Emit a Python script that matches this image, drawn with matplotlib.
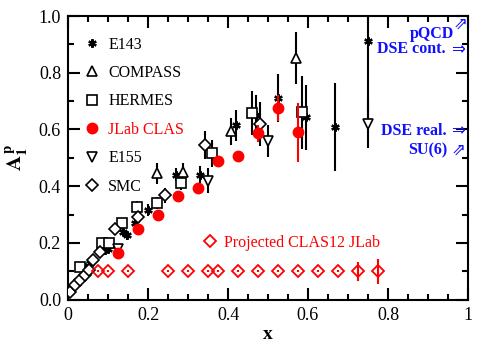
import matplotlib

matplotlib.use("Agg")
import matplotlib.pyplot as plt
from matplotlib.lines import Line2D

plt.rcParams["font.family"] = ["Liberation Serif", "DejaVu Sans"]
plt.rcParams["mathtext.fontset"] = "stix"

# E143
e143_x = [0.0425, 0.055, 0.0925, 0.1, 0.1375, 0.147, 0.1675, 0.2, 0.27, 0.33,
          0.42, 0.47, 0.525, 0.595, 0.6675, 0.75]
e143_y = [0.115, 0.128, 0.175, 0.18, 0.238, 0.227, 0.27, 0.316, 0.44, 0.44,
          0.615, 0.65, 0.71, 0.643, 0.61, 0.912]
e143_err = [0.012, 0.012, 0.012, 0.012, 0.015, 0.015, 0.018, 0.02, 0.023, 0.03,
            0.055, 0.07, 0.085, 0.115, 0.155, 0.3]

# COMPASS
compass_x = [0.2225, 0.2875, 0.4075, 0.57]
compass_y = [0.446, 0.45, 0.594, 0.852]
compass_err = [0.037, 0.03, 0.048, 0.09]

# HERMES
hermes_x = [0.03, 0.085, 0.1025, 0.135, 0.1725, 0.2225, 0.2825, 0.36, 0.46, 0.585]
hermes_y = [0.115, 0.20, 0.20, 0.27, 0.325, 0.34, 0.41, 0.516, 0.658, 0.66]
hermes_err = [0.015, 0.012, 0.012, 0.015, 0.023, 0.022, 0.025, 0.048, 0.078, 0.13]

# JLab CLAS
clas_x = [0.125, 0.175, 0.225, 0.275, 0.325, 0.375, 0.425, 0.475, 0.525, 0.575]
clas_y = [0.165, 0.25, 0.30, 0.365, 0.395, 0.488, 0.506, 0.587, 0.675, 0.59]
clas_err = [0.008, 0.008, 0.008, 0.01, 0.01, 0.015, 0.015, 0.03, 0.045, 0.105]

# E155
e155_x = [0.125, 0.35, 0.50, 0.75]
e155_y = [0.18, 0.42, 0.559, 0.62]
e155_err = [0.015, 0.045, 0.057, 0.086]

# SMC
smc_x = [0.005, 0.0175, 0.03, 0.0425, 0.0525, 0.0625, 0.08, 0.1175, 0.175,
         0.2425, 0.3425, 0.48]
smc_y = [0.026, 0.051, 0.069, 0.086, 0.104, 0.14, 0.168, 0.25, 0.29, 0.368,
         0.545, 0.62]
smc_err = [0.01, 0.01, 0.01, 0.01, 0.01, 0.012, 0.012, 0.015, 0.02, 0.026,
           0.05, 0.078]

# Projected CLAS12
proj_x = [0.075, 0.10, 0.15, 0.25, 0.30, 0.35, 0.375, 0.425, 0.475, 0.525,
          0.575, 0.625, 0.675, 0.725, 0.775]
proj_y = [0.1] * 15
proj_err = [0.003] * 13 + [0.033, 0.045]

BLUE = "#1010ff"
RED = "#ff0000"

fig = plt.figure(figsize=(4.79, 3.48), dpi=100)
ax = fig.add_axes([0.142, 0.139, 0.835, 0.815])

ebkw = dict(ls="none", ecolor="black", elinewidth=1.5, capsize=0, zorder=3)
ax.errorbar(e143_x, e143_y, yerr=e143_err, marker=(6, 2, 0), ms=6, mew=1.6,
            color="black", **ebkw)
ax.errorbar(compass_x, compass_y, yerr=compass_err, marker="^", ms=6.5,
            mfc="white", mec="black", mew=1.2, **ebkw)
ax.errorbar(hermes_x, hermes_y, yerr=hermes_err, marker="s", ms=6.5,
            mfc="white", mec="black", mew=1.2, **ebkw)
ax.errorbar(e155_x, e155_y, yerr=e155_err, marker="v", ms=6.5,
            mfc="white", mec="black", mew=1.2, **ebkw)
ax.errorbar(smc_x, smc_y, yerr=smc_err, marker="D", ms=6.5,
            mfc="white", mec="black", mew=1.2, **ebkw)
ax.errorbar(clas_x, clas_y, yerr=clas_err, marker="o", ms=7.5, color=RED,
            ls="none", ecolor=RED, elinewidth=1.5, capsize=0, zorder=4)
ax.errorbar(proj_x, proj_y, yerr=proj_err, marker="D", ms=6.5, mfc="none",
            mec=RED, mew=1.3, ls="none", ecolor=RED, elinewidth=1.5,
            capsize=0, zorder=4)

ax.set_xlim(0, 1)
ax.set_ylim(0, 1)
ax.set_xticks([0, 0.2, 0.4, 0.6, 0.8, 1])
ax.set_xticklabels(["0", "0.2", "0.4", "0.6", "0.8", "1"])
ax.set_xticks([i * 0.05 for i in range(21)], minor=True)
ax.set_yticks([0, 0.2, 0.4, 0.6, 0.8, 1.0])
ax.set_yticklabels(["0.0", "0.2", "0.4", "0.6", "0.8", "1.0"])
ax.set_yticks([i * 0.1 for i in range(11)], minor=True)
ax.tick_params(which="both", direction="in", top=True, right=True,
               labelsize=13, width=1.5)
ax.tick_params(which="major", length=8.5, pad=5)
ax.tick_params(which="minor", length=4.3)
for sp in ax.spines.values():
    sp.set_linewidth(1.5)

ax.set_xlabel("x", fontsize=14, fontweight="bold", labelpad=2)
ax.set_ylabel(r"$\mathbf{A_1^{\,p}}$", fontsize=15, labelpad=6)

handles = [
    Line2D([], [], ls="none", marker=(6, 2, 0), ms=6, mew=1.6, color="black"),
    Line2D([], [], ls="none", marker="^", ms=6.5, mfc="white", mec="black", mew=1.2),
    Line2D([], [], ls="none", marker="s", ms=6.5, mfc="white", mec="black", mew=1.2),
    Line2D([], [], ls="none", marker="o", ms=7.5, color=RED),
    Line2D([], [], ls="none", marker="v", ms=6.5, mfc="white", mec="black", mew=1.2),
    Line2D([], [], ls="none", marker="D", ms=6.5, mfc="white", mec="black", mew=1.2),
]
labels = ["E143", "COMPASS", "HERMES", "JLab CLAS", "E155", "SMC"]
leg = ax.legend(handles, labels, loc="upper left", frameon=False,
                fontsize=11.5, handlelength=1.0, handletextpad=0.5,
                labelspacing=0.78, borderaxespad=0.0,
                bbox_to_anchor=(0.025, 0.95))
for t in leg.get_texts():
    if t.get_text() == "JLab CLAS":
        t.set_color(RED)
ax.add_artist(leg)

proj_handle = Line2D([], [], ls="none", marker="D", ms=6.5, mfc="none",
                     mec=RED, mew=1.3)
leg2 = ax.legend([proj_handle], ["Projected CLAS12 JLab"], loc="center left",
                 frameon=False, fontsize=11.5, handlelength=1.0,
                 handletextpad=0.4, borderaxespad=0.0,
                 bbox_to_anchor=(0.318, 0.2))
leg2.get_texts()[0].set_color(RED)

tkw = dict(color=BLUE, fontsize=11.5, fontweight="bold", ha="right",
           va="center")
akw = dict(color=BLUE, fontsize=12, ha="center", va="center",
           family="DejaVu Sans")
ax.text(0.965, 0.935, "pQCD", **tkw)
ax.text(0.982, 0.972, "\u21d7", **akw)
ax.text(0.945, 0.884, "DSE cont.", **tkw)
ax.text(0.974, 0.884, "\u21d2", **akw)
ax.text(0.947, 0.594, "DSE real.", **tkw)
ax.text(0.975, 0.596, "\u21d2", **akw)
ax.text(0.948, 0.527, "SU(6)", **tkw)
ax.text(0.975, 0.530, "\u21d7", **akw)

fig.savefig("out.png", dpi=100)
